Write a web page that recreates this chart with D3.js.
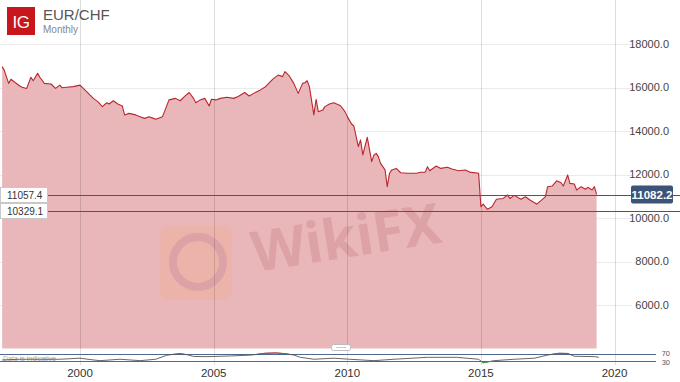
<!DOCTYPE html>
<html lang="en">
<head>
    <meta charset="UTF-8">
    <script src="https://d3js.org/d3.v7.min.js"></script>
    <style>
        body { margin: 0; background: #fff; font-family: "Liberation Sans", Arial, sans-serif; }
        svg { display: block; }
        .ytick { font-size: 11px; fill: #444; }
        .xtick { font-size: 11.5px; fill: #333; }
    </style>
</head>
<body>
    <svg id="chart"></svg>

    <script>
        // EUR/CHF monthly (x10000)
        const dates = [
            "1997-02","1997-03","1997-05","1997-06","1997-08","1997-10","1997-11","1998-01","1998-03","1998-04",
            "1998-06","1998-07","1998-09","1998-12","1999-02","1999-04","1999-05","1999-07","1999-10","2000-01",
            "2000-04","2000-07","2000-09","2000-11","2001-01","2001-02","2001-04","2001-06","2001-08","2001-09",
            "2001-11","2002-02","2002-04","2002-06","2002-08","2002-10","2002-11","2003-02","2003-03","2003-05",
            "2003-08","2003-10","2003-12","2004-02","2004-04","2004-05","2004-07","2004-09","2004-11","2004-12",
            "2005-02","2005-04","2005-07","2005-10","2005-12","2006-03","2006-05","2006-07","2006-10","2006-12",
            "2007-02","2007-04","2007-06","2007-08","2007-09","2007-11","2008-01","2008-03","2008-05","2008-06",
            "2008-07","2008-08","2008-10","2008-11","2008-12","2009-02","2009-03","2009-05","2009-07","2009-10",
            "2009-12","2010-01","2010-03","2010-04","2010-06","2010-07","2010-08","2010-10","2010-12","2011-01",
            "2011-02","2011-03","2011-04","2011-06","2011-07","2011-08","2011-09","2011-11","2012-01","2012-04",
            "2012-08","2012-10","2012-12","2013-01","2013-02","2013-05","2013-07","2013-10","2013-12","2014-03",
            "2014-06","2014-08","2014-12","2015-01","2015-02","2015-03","2015-04","2015-06","2015-08","2015-11",
            "2016-01","2016-02","2016-04","2016-07","2016-09","2016-11","2017-02","2017-04","2017-06","2017-07",
            "2017-09","2017-11","2018-01","2018-02","2018-04","2018-05","2018-07","2018-08","2018-10","2018-12",
            "2019-01","2019-03","2019-04","2019-05"
        ];
        const prices = [
            16960,16800,16190,16380,16220,16070,16010,15950,16470,16310,
            16650,16470,16190,16160,15960,16110,15990,16010,16040,16110,
            15810,15500,15350,15120,15300,15240,15390,15240,15150,14740,
            14810,14740,14660,14580,14660,14580,14540,14660,14890,15430,
            15500,15390,15590,15770,15500,15300,15430,15500,15150,15460,
            15430,15500,15550,15500,15590,15770,15610,15730,15890,16010,
            16220,16420,16570,16500,16730,16530,16190,15730,16190,16220,
            16310,16040,14740,15460,14890,14970,15120,15240,15300,15160,
            14890,14660,14320,14230,13280,13590,12900,13710,12590,12900,
            12970,12820,12510,12210,11440,12060,12210,12280,12080,12060,
            12060,12100,12110,12360,12170,12390,12280,12330,12250,12170,
            12210,12110,12060,10520,10640,10520,10400,10520,10860,10900,
            11060,10900,11040,10860,10980,10830,10640,10800,10980,11440,
            11470,11710,11620,11470,11980,11590,11560,11290,11440,11320,
            11410,11290,11440,11082
        ];

        // RSI panel
        const rsiDates = [
            "1997-02","1997-10","1998-07","1999-04","2000-01","2000-07","2000-10","2001-07","2002-04","2002-11",
            "2003-04","2003-07","2003-10","2004-01","2004-04","2004-10","2005-09","2006-06","2006-12","2007-05",
            "2007-09","2008-01","2008-04","2008-10","2009-07","2010-02","2011-01","2011-10","2013-01","2014-02",
            "2014-12","2015-02","2015-07","2016-04","2017-01","2017-07","2017-12","2018-04","2018-07","2019-04",
            "2019-06"
        ];
        const rsiValues = [
            36,40,40,40,46,36,32,40,32,40,
            63,68,72,66,56,55,59,64,74,76,
            72,64,51,40,46,40,32,40,51,51,
            40,20,32,40,46,64,74,73,57,55,
            51
        ];

        const yTicks = [6000, 8000, 10000, 12000, 14000, 16000, 18000];
        const xTicks = ["2000", "2005", "2010", "2015", "2020"];
        const levels = [11057.4, 10329.1];
        const lastPrice = 11082.2;

        const W = 680, H = 382;
        const parseM = d3.timeParse("%Y-%m");
        const parseY = d3.timeParse("%Y");

        const series = dates.map((d, i) => ({ date: parseM(d), value: prices[i] }));
        const rsi = rsiDates.map((d, i) => ({ date: parseM(d), value: rsiValues[i] }));

        const svg = d3.select("#chart").attr("width", W).attr("height", H);

        const x = d3.scaleTime()
            .domain([parseY("2000"), parseY("2020")])
            .range([80, 614.5]);

        const y = d3.scaleLinear()
            .domain([4000, 18000])
            .range([348.5, 44]);

        const yr = d3.scaleLinear()
            .domain([30, 70])
            .range([361, 354]);

        // horizontal grid
        svg.append("g")
            .selectAll("line")
            .data(yTicks)
            .enter()
            .append("line")
            .attr("x1", 0).attr("x2", 632)
            .attr("y1", d => Math.round(y(d)) + 0.5)
            .attr("y2", d => Math.round(y(d)) + 0.5)
            .attr("stroke", "#ebebeb");

        // price area + line
        const area = d3.area()
            .x(d => x(d.date))
            .y0(y(4000))
            .y1(d => y(d.value));

        const line = d3.line()
            .x(d => x(d.date))
            .y(d => y(d.value));

        svg.append("path")
            .datum(series)
            .attr("d", area)
            .attr("fill", "#e9b7b9");

        // watermark
        const wm = svg.append("g").attr("opacity", 0.17);
        wm.append("rect")
            .attr("x", 160).attr("y", 226).attr("width", 72).attr("height", 74).attr("rx", 8)
            .attr("fill", "#f5a060");
        wm.append("circle")
            .attr("cx", 198).attr("cy", 262).attr("r", 25)
            .attr("fill", "none").attr("stroke", "#a0404a").attr("stroke-width", 8);
        wm.append("text")
            .attr("x", 255).attr("y", 272)
            .attr("transform", "rotate(-9, 255, 272)")
            .attr("font-family", "'Noto Sans', sans-serif")
            .attr("font-weight", "bold")
            .attr("font-size", 56)
            .attr("fill", "#a0404a")
            .text("WikiFX");

        svg.append("path")
            .datum(series)
            .attr("d", line)
            .attr("fill", "none")
            .attr("stroke", "#b8272e")
            .attr("stroke-width", 1.1)
            .attr("stroke-linejoin", "round");

        // vertical grid
        svg.append("g")
            .selectAll("line")
            .data(xTicks)
            .enter()
            .append("line")
            .attr("x1", d => Math.round(x(parseY(d))) + 0.5)
            .attr("x2", d => Math.round(x(parseY(d))) + 0.5)
            .attr("y1", 0).attr("y2", 365)
            .attr("stroke", "#000")
            .attr("stroke-opacity", 0.13);

        // y labels
        svg.append("g")
            .selectAll("text")
            .data(yTicks)
            .enter()
            .append("text")
            .attr("class", "ytick")
            .attr("x", 669)
            .attr("y", d => y(d))
            .attr("dy", "0.35em")
            .attr("text-anchor", "end")
            .text(d => d3.format(".1f")(d));

        // level lines
        svg.append("g")
            .selectAll("line")
            .data(levels)
            .enter()
            .append("line")
            .attr("x1", 0).attr("x2", W)
            .attr("y1", d => Math.round(y(d)) + 0.5)
            .attr("y2", d => Math.round(y(d)) + 0.5)
            .attr("stroke", "#555")
            .attr("stroke-width", 1.2);

        const lvl = svg.append("g")
            .selectAll("g")
            .data(levels)
            .enter()
            .append("g")
            .attr("transform", d => `translate(0,${Math.round(y(d))})`);
        lvl.append("rect")
            .attr("x", 0.5).attr("y", -7.5).attr("width", 47).attr("height", 15)
            .attr("fill", "#fff").attr("stroke", "#c8c8c8");
        lvl.append("text")
            .attr("x", 7).attr("dy", "0.35em")
            .attr("font-size", 10).attr("fill", "#333")
            .text(d => d3.format(".1f")(d));

        // last price tag
        const tag = svg.append("g").attr("transform", `translate(0,${y(lastPrice)})`);
        tag.append("rect")
            .attr("x", 631).attr("y", -9).attr("width", 42).attr("height", 18).attr("rx", 2)
            .attr("fill", "#3c5478");
        tag.append("text")
            .attr("x", 652).attr("dy", "0.36em")
            .attr("text-anchor", "middle")
            .attr("font-size", 11.5).attr("font-weight", "bold").attr("fill", "#fff")
            .text(d3.format(".1f")(lastPrice));

        // RSI panel
        [70, 30].forEach(v => {
            svg.append("line")
                .attr("x1", 0).attr("x2", 656)
                .attr("y1", yr(v) + 0.5).attr("y2", yr(v) + 0.5)
                .attr("stroke", "#4c6a8e").attr("stroke-width", 1.1);
        });
        svg.append("text")
            .attr("x", 3).attr("y", 361)
            .attr("font-size", 7).attr("fill", "#aaa")
            .text("Data is indicative");

        const rsiLine = d3.line()
            .x(d => x(d.date))
            .y(d => yr(d.value));

        const defs = svg.append("defs");
        defs.append("clipPath").attr("id", "over")
            .append("rect").attr("x", 0).attr("y", 340).attr("width", W).attr("height", yr(70) - 340);
        defs.append("clipPath").attr("id", "under")
            .append("rect").attr("x", 0).attr("y", yr(30)).attr("width", W).attr("height", 10);

        svg.append("path").datum(rsi).attr("d", rsiLine)
            .attr("fill", "none").attr("stroke", "#555").attr("stroke-width", 0.9);
        svg.append("path").datum(rsi).attr("d", rsiLine).attr("clip-path", "url(#over)")
            .attr("fill", "none").attr("stroke", "#d0333a").attr("stroke-width", 1);
        svg.append("path").datum(rsi).attr("d", rsiLine).attr("clip-path", "url(#under)")
            .attr("fill", "none").attr("stroke", "#3a9a4a").attr("stroke-width", 1);

        svg.append("text").attr("x", 670).attr("y", 355.5)
            .attr("text-anchor", "end").attr("font-size", 7.5).attr("fill", "#555").text("70");
        svg.append("text").attr("x", 670).attr("y", 364.5)
            .attr("text-anchor", "end").attr("font-size", 7.5).attr("fill", "#555").text("30");

        // panel handle
        svg.append("rect")
            .attr("x", 331.5).attr("y", 344.5).attr("width", 19).attr("height", 6).attr("rx", 2)
            .attr("fill", "#fff").attr("stroke", "#bbb");
        svg.append("line")
            .attr("x1", 336).attr("x2", 346).attr("y1", 347.5).attr("y2", 347.5)
            .attr("stroke", "#ccc");

        // x labels
        svg.append("g")
            .selectAll("text")
            .data(xTicks)
            .enter()
            .append("text")
            .attr("class", "xtick")
            .attr("x", d => x(parseY(d)))
            .attr("y", 377)
            .attr("text-anchor", "middle")
            .text(d => d);

        // header
        svg.append("rect")
            .attr("x", 7).attr("y", 7).attr("width", 28).attr("height", 28)
            .attr("fill", "#c8161d");
        svg.append("text")
            .attr("x", 21).attr("y", 28)
            .attr("text-anchor", "middle")
            .attr("font-size", 17).attr("fill", "#fff")
            .attr("letter-spacing", -0.5)
            .text("IG");
        svg.append("text")
            .attr("x", 43).attr("y", 20)
            .attr("font-size", 15).attr("fill", "#555")
            .text("EUR/CHF");
        svg.append("text")
            .attr("x", 43).attr("y", 33)
            .attr("font-size", 10).attr("fill", "#888")
            .text("Monthly");
    </script>
</body>
</html>
